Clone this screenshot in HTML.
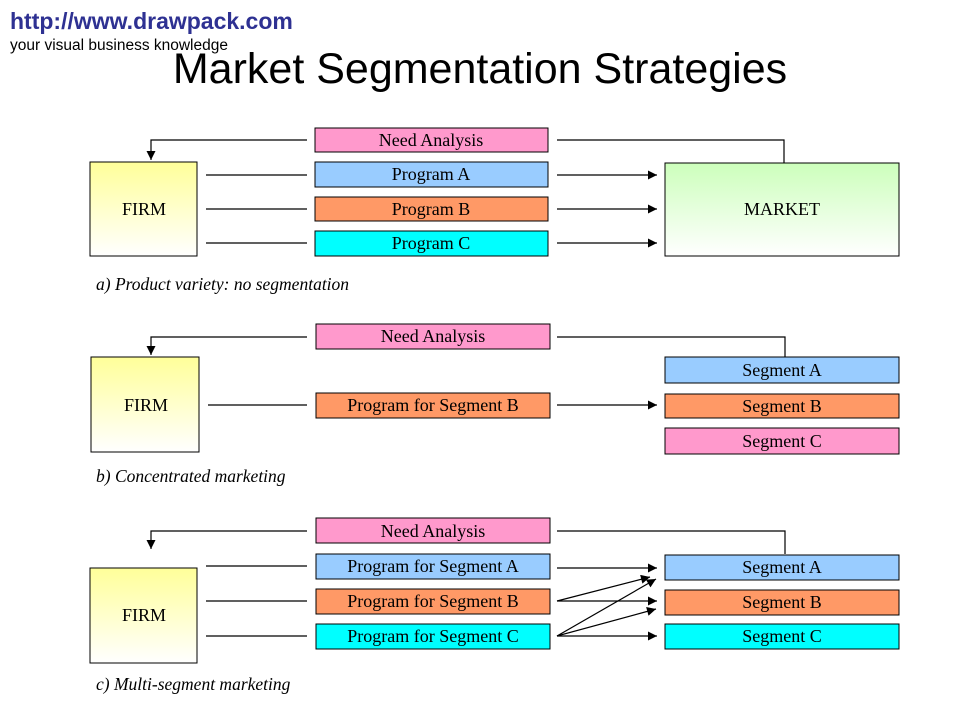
<!DOCTYPE html>
<html><head><meta charset="utf-8"><style>
html,body{margin:0;padding:0;background:#fff;}
svg{display:block}
.s{font-family:"Liberation Serif",serif;font-size:18px;fill:#000;text-anchor:middle}
.c{font-family:"Liberation Serif",serif;font-size:17.5px;font-style:italic;fill:#000}
</style></head><body>
<svg width="960" height="720" viewBox="0 0 960 720" xmlns="http://www.w3.org/2000/svg">
<defs>
<marker id="a" viewBox="0 0 10 10" refX="10" refY="5" markerWidth="11" markerHeight="9" markerUnits="userSpaceOnUse" orient="auto"><path d="M0,0L10,5L0,10z" fill="#000"/></marker>
<linearGradient id="y" x1="0" y1="0" x2="0" y2="1"><stop offset="0" stop-color="#ffff99"/><stop offset="1" stop-color="#ffffff"/></linearGradient>
<linearGradient id="g" x1="0" y1="0" x2="0" y2="1"><stop offset="0" stop-color="#ccffbb"/><stop offset="1" stop-color="#ffffff"/></linearGradient>
</defs>
<text x="10" y="29" font-family="Liberation Sans,sans-serif" font-weight="bold" font-size="23" fill="#2e3192">http://www.drawpack.com</text>
<text x="10" y="50" font-family="Liberation Sans,sans-serif" font-size="15.5" fill="#000">your visual business knowledge</text>
<text x="480" y="83" font-family="Liberation Sans,sans-serif" font-size="43" text-anchor="middle" fill="#000">Market Segmentation Strategies</text>

<g stroke="#000" stroke-width="1.2" fill="none">
<polyline points="307,140 151,140 151,160" marker-end="url(#a)"/>
<polyline points="557,140 784,140 784,163"/>
<line x1="206" y1="175" x2="307" y2="175"/><line x1="206" y1="209" x2="307" y2="209"/><line x1="206" y1="243" x2="307" y2="243"/>
<line x1="557" y1="175" x2="657" y2="175" marker-end="url(#a)"/>
<line x1="557" y1="209" x2="657" y2="209" marker-end="url(#a)"/>
<line x1="557" y1="243" x2="657" y2="243" marker-end="url(#a)"/>
<polyline points="307,337 151,337 151,355" marker-end="url(#a)"/>
<polyline points="557,337 785,337 785,357"/>
<line x1="208" y1="405" x2="307" y2="405"/>
<line x1="557" y1="405" x2="657" y2="405" marker-end="url(#a)"/>
<polyline points="307,531 151,531 151,549" marker-end="url(#a)"/>
<polyline points="557,531 785,531 785,554"/>
<line x1="206" y1="566" x2="307" y2="566"/><line x1="206" y1="601" x2="307" y2="601"/><line x1="206" y1="636" x2="307" y2="636"/>
<line x1="557" y1="568" x2="657" y2="568" marker-end="url(#a)"/>
<line x1="557" y1="601" x2="650" y2="577" marker-end="url(#a)"/>
<line x1="557" y1="601" x2="657" y2="601" marker-end="url(#a)"/>
<line x1="557" y1="636" x2="656" y2="579" marker-end="url(#a)"/>
<line x1="557" y1="636" x2="656" y2="609" marker-end="url(#a)"/>
<line x1="557" y1="636" x2="657" y2="636" marker-end="url(#a)"/>
</g>

<g stroke="#000" stroke-width="1">
<rect x="90" y="162" width="107" height="94" fill="url(#y)"/>
<rect x="665" y="163" width="234" height="93" fill="url(#g)"/>
<rect x="315" y="128" width="233" height="24" fill="#ff99cc"/>
<rect x="315" y="162" width="233" height="25" fill="#99ccff"/>
<rect x="315" y="197" width="233" height="24" fill="#ff9966"/>
<rect x="315" y="231" width="233" height="25" fill="#00ffff"/>

<rect x="91" y="357" width="108" height="95" fill="url(#y)"/>
<rect x="316" y="324" width="234" height="25" fill="#ff99cc"/>
<rect x="316" y="393" width="234" height="25" fill="#ff9966"/>
<rect x="665" y="357" width="234" height="26" fill="#99ccff"/>
<rect x="665" y="394" width="234" height="24" fill="#ff9966"/>
<rect x="665" y="428" width="234" height="26" fill="#ff99cc"/>

<rect x="90" y="568" width="107" height="95" fill="url(#y)"/>
<rect x="316" y="518" width="234" height="25" fill="#ff99cc"/>
<rect x="316" y="554" width="234" height="25" fill="#99ccff"/>
<rect x="316" y="589" width="234" height="25" fill="#ff9966"/>
<rect x="316" y="624" width="234" height="25" fill="#00ffff"/>
<rect x="665" y="555" width="234" height="25" fill="#99ccff"/>
<rect x="665" y="590" width="234" height="25" fill="#ff9966"/>
<rect x="665" y="624" width="234" height="25" fill="#00ffff"/>
</g>

<text class="s" x="144" y="215">FIRM</text>
<text class="s" x="782" y="215">MARKET</text>
<text class="s" x="431" y="146">Need Analysis</text>
<text class="s" x="431" y="180">Program A</text>
<text class="s" x="431" y="215">Program B</text>
<text class="s" x="431" y="249">Program C</text>
<text class="c" x="96" y="290">a) Product variety: no segmentation</text>

<text class="s" x="146" y="411">FIRM</text>
<text class="s" x="433" y="342">Need Analysis</text>
<text class="s" x="433" y="411">Program for Segment B</text>
<text class="s" x="782" y="376">Segment A</text>
<text class="s" x="782" y="412">Segment B</text>
<text class="s" x="782" y="447">Segment C</text>
<text class="c" x="96" y="482">b) Concentrated marketing</text>

<text class="s" x="144" y="621">FIRM</text>
<text class="s" x="433" y="537">Need Analysis</text>
<text class="s" x="433" y="572">Program for Segment A</text>
<text class="s" x="433" y="607">Program for Segment B</text>
<text class="s" x="433" y="642">Program for Segment C</text>
<text class="s" x="782" y="573">Segment A</text>
<text class="s" x="782" y="608">Segment B</text>
<text class="s" x="782" y="642">Segment C</text>
<text class="c" x="96" y="690">c) Multi-segment marketing</text>
</svg>
</body></html>
